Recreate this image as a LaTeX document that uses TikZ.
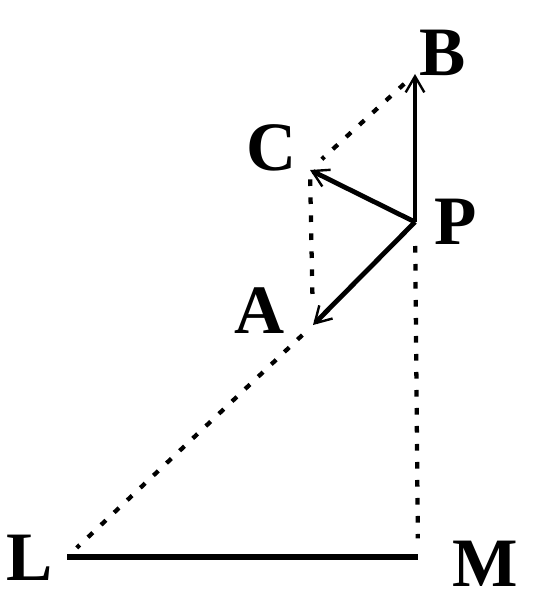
\documentclass[tikz,border=0pt]{standalone}
\usepackage{fontspec}
\setmainfont{Liberation Serif}
\usetikzlibrary{arrows.meta}
\tikzset{
  lbl/.style={font=\fontsize{52}{56}\selectfont\bfseries, inner sep=0pt},
  force/.style={line width=3.6pt, -{Straight Barb[length=12pt,width=14pt,line width=1.8pt]}},
  dotline/.style={line width=3.2pt, dash pattern={on 5pt off 8.5pt}},
}
\begin{document}
\begin{tikzpicture}[x=0.75pt,y=0.75pt,yscale=-1,xscale=1]
\useasboundingbox (0,0) rectangle (536,602);
% points
\coordinate (P) at (415,222);
\coordinate (B) at (415,74);
\coordinate (C) at (310,170);
\coordinate (A) at (313,325);
\coordinate (L) at (67,557);
\coordinate (M) at (418,557);
% dotted lines
\draw [dotline, shorten <=11pt, shorten >=12pt] (B) -- (C) ;
\draw [dotline, shorten <=7pt, shorten >=15pt] (C) -- (A) ;
\draw [dotline, shorten <=11pt, shorten >=10pt] (A) -- (L) ;
\draw [dotline, shorten <=18pt, shorten >=14pt] (P) -- (M) ;
% forces
\draw [force] (P) -- (B) ;
\draw [force] (P) -- (C) ;
\draw [force] (P) -- (A) ;
% base
\draw [line width=4.5pt] (L) -- (M) ;
% Text Node
\node [lbl] (labB) at (443,53) {B};
\node [lbl] (labC) at (272,148) {C};
\node [lbl] (labP) at (456,222) {P};
\node [lbl] (labA) at (260,311) {A};
\node [lbl] (labL) at (30,558) {L};
\node [lbl] (labM) at (485,564) {M};
\end{tikzpicture}
\end{document}
